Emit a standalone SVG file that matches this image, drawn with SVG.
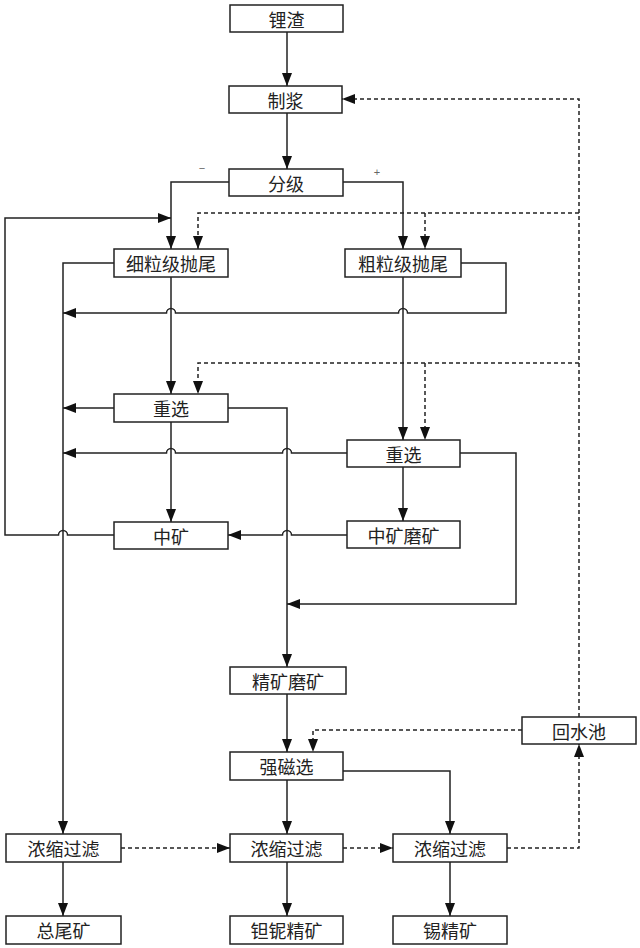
<svg xmlns="http://www.w3.org/2000/svg" width="640" height="948" viewBox="0 0 640 948">
<style>
.box{fill:#fff;stroke:#222;stroke-width:1.5}
.t{font-family:"Noto Sans CJK SC",sans-serif;font-size:18px;fill:#222;text-anchor:middle;dominant-baseline:central}
.ln{fill:none;stroke:#222;stroke-width:1.5}
.ds{fill:none;stroke:#222;stroke-width:1.5;stroke-dasharray:4 3}
.lbl{font-family:"Liberation Sans",sans-serif;font-size:11px;fill:#666;text-anchor:middle}
</style>
<defs>
<marker id="ah" markerUnits="userSpaceOnUse" markerWidth="14" markerHeight="11" refX="13" refY="5" orient="auto">
<path d="M0,0 L13,5 L0,10 z" fill="#111"/>
</marker>
</defs>
<rect width="640" height="948" fill="#fff"/>
<g id="connectors">
<path class="ln" d="M287,32 V86" marker-end="url(#ah)"/>
<path class="ln" d="M287,113 V169" marker-end="url(#ah)"/>
<path class="ln" d="M229,182 H171 V249" marker-end="url(#ah)"/>
<path class="ln" d="M343,182 H403 V249" marker-end="url(#ah)"/>
<path class="ln" d="M114,263 H63 V834" marker-end="url(#ah)"/>
<path class="ln" d="M461,263 H506 V313 H407.5 A4.5,4.5 0 0 0 398.5,313 H175.5 A4.5,4.5 0 0 0 166.5,313 H63" marker-end="url(#ah)"/>
<path class="ln" d="M171,277 V394" marker-end="url(#ah)"/>
<path class="ln" d="M403,277 V440" marker-end="url(#ah)"/>
<path class="ln" d="M114,408 H63" marker-end="url(#ah)"/>
<path class="ln" d="M228,408 H287 V667" marker-end="url(#ah)"/>
<path class="ln" d="M347,453 H291.5 A4.5,4.5 0 0 0 282.5,453 H175.5 A4.5,4.5 0 0 0 166.5,453 H63" marker-end="url(#ah)"/>
<path class="ln" d="M460,453 H516 V604 H287" marker-end="url(#ah)"/>
<path class="ln" d="M403,467 V521" marker-end="url(#ah)"/>
<path class="ln" d="M171,422 V522" marker-end="url(#ah)"/>
<path class="ln" d="M347,535 H291.5 A4.5,4.5 0 0 0 282.5,535 H228" marker-end="url(#ah)"/>
<path class="ln" d="M114,535 H67.5 A4.5,4.5 0 0 0 58.5,535 H5 V218 H171" marker-end="url(#ah)"/>
<path class="ln" d="M287,694 V752" marker-end="url(#ah)"/>
<path class="ln" d="M287,780 V834" marker-end="url(#ah)"/>
<path class="ln" d="M343,771 H450 V834" marker-end="url(#ah)"/>
<path class="ln" d="M63,862 V916" marker-end="url(#ah)"/>
<path class="ln" d="M287,862 V916" marker-end="url(#ah)"/>
<path class="ln" d="M450,862 V916" marker-end="url(#ah)"/>
<path class="ds" d="M579,717 V99 H342" marker-end="url(#ah)"/>
<path class="ds" d="M579,213 H198 V249" marker-end="url(#ah)"/>
<path class="ds" d="M425,213 V249" marker-end="url(#ah)"/>
<path class="ds" d="M579,363 H198 V394" marker-end="url(#ah)"/>
<path class="ds" d="M425,363 V440" marker-end="url(#ah)"/>
<path class="ds" d="M522,730 H313 V752" marker-end="url(#ah)"/>
<path class="ds" d="M121,848 H230" marker-end="url(#ah)"/>
<path class="ds" d="M343,848 H393" marker-end="url(#ah)"/>
<path class="ds" d="M507,848 H579 V744" marker-end="url(#ah)"/>
<text class="lbl" x="202" y="172">−</text>
<text class="lbl" x="377" y="176">+</text>
</g>
<g id="n1"><rect class="box" x="230" y="5" width="113" height="27"/><text class="t" x="286.5" y="18.5">锂渣</text></g>
<g id="n2"><rect class="box" x="229" y="86" width="113" height="27"/><text class="t" x="285.5" y="99.5">制浆</text></g>
<g id="n3"><rect class="box" x="229" y="169" width="114" height="27"/><text class="t" x="286" y="182.5">分级</text></g>
<g id="n4"><rect class="box" x="114" y="249" width="114" height="28"/><text class="t" x="171" y="263">细粒级抛尾</text></g>
<g id="n5"><rect class="box" x="345" y="249" width="116" height="28"/><text class="t" x="403" y="263">粗粒级抛尾</text></g>
<g id="n6"><rect class="box" x="114" y="394" width="114" height="28"/><text class="t" x="171" y="408">重选</text></g>
<g id="n7"><rect class="box" x="347" y="440" width="113" height="27"/><text class="t" x="403.5" y="453.5">重选</text></g>
<g id="n8"><rect class="box" x="347" y="521" width="113" height="27"/><text class="t" x="403.5" y="534.5">中矿磨矿</text></g>
<g id="n9"><rect class="box" x="114" y="522" width="114" height="27"/><text class="t" x="171" y="535.5">中矿</text></g>
<g id="n10"><rect class="box" x="230" y="667" width="116" height="27"/><text class="t" x="288" y="680.5">精矿磨矿</text></g>
<g id="n11"><rect class="box" x="522" y="717" width="114" height="27"/><text class="t" x="579" y="730.5">回水池</text></g>
<g id="n12"><rect class="box" x="230" y="752" width="113" height="28"/><text class="t" x="286.5" y="766">强磁选</text></g>
<g id="n13"><rect class="box" x="6" y="834" width="115" height="28"/><text class="t" x="63.5" y="848">浓缩过滤</text></g>
<g id="n14"><rect class="box" x="230" y="834" width="113" height="28"/><text class="t" x="286.5" y="848">浓缩过滤</text></g>
<g id="n15"><rect class="box" x="393" y="834" width="114" height="28"/><text class="t" x="450" y="848">浓缩过滤</text></g>
<g id="n16"><rect class="box" x="6" y="916" width="115" height="28"/><text class="t" x="63.5" y="930">总尾矿</text></g>
<g id="n17"><rect class="box" x="230" y="916" width="113" height="28"/><text class="t" x="286.5" y="930">钽铌精矿</text></g>
<g id="n18"><rect class="box" x="393" y="916" width="114" height="28"/><text class="t" x="450" y="930">锡精矿</text></g>
</svg>
